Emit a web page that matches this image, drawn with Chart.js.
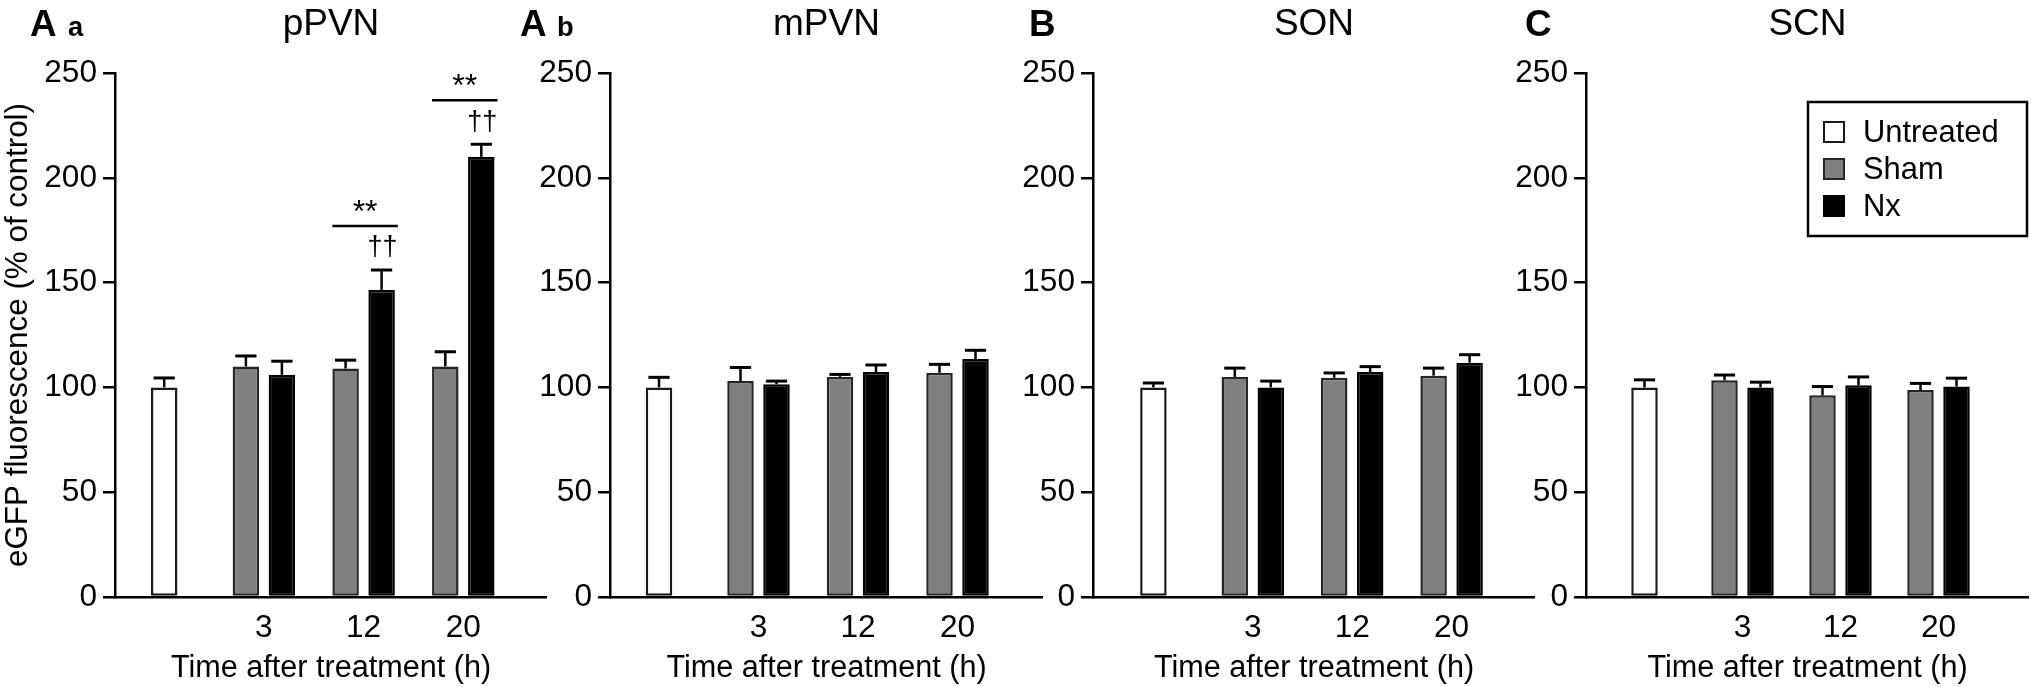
<!DOCTYPE html>
<html><head><meta charset="utf-8">
<script src="https://cdn.jsdelivr.net/npm/chart.js@4.4.1/dist/chart.umd.min.js"></script>
<style>
html,body{margin:0;padding:0;background:#fff;}
#wrap{position:relative;width:2031px;height:687px;overflow:hidden;background:#fff;}
#wrap canvas{position:absolute;top:0;}
</style></head>
<body><div id="wrap"></div>
<script>
// ---------------- data ----------------
const timeLabels = ['', '3', '12', '20'];
const seriesNames = ['Untreated', 'Sham', 'Nx'];
const yTickStep = 50;
const yMax = 250;

const untreated_pPVN = [100, null, null, null];
const untreatedErr_pPVN = [4.5, null, null, null];
const sham_pPVN = [null, 110, 109, 110];
const shamErr_pPVN = [null, 5, 4, 7];
const nx_pPVN = [null, 106, 146.5, 210];
const nxErr_pPVN = [null, 6.5, 9.5, 6];
const stars_pPVN = ['', '', '**', '**'];
const daggers_pPVN = ['', '', '\u2020\u2020', '\u2020\u2020'];

const untreated_mPVN = [100, null, null, null];
const untreatedErr_mPVN = [4.8, null, null, null];
const sham_mPVN = [null, 103, 105, 107];
const shamErr_mPVN = [null, 6.5, 1.2, 4];
const nx_mPVN = [null, 101.5, 107.3, 113.5];
const nxErr_mPVN = [null, 1.5, 3.4, 4.2];

const untreated_SON = [100, null, null, null];
const untreatedErr_SON = [2.1, null, null, null];
const sham_SON = [null, 105, 104.6, 105.6];
const shamErr_SON = [null, 4.2, 2.3, 3.6];
const nx_SON = [null, 100, 107.3, 111.8];
const nxErr_SON = [null, 3, 2.6, 3.8];

const untreated_SCN = [100, null, null, null];
const untreatedErr_SCN = [3.6, null, null, null];
const sham_SCN = [null, 103.4, 96.2, 98.7];
const shamErr_SCN = [null, 2.5, 4.2, 3.2];
const nx_SCN = [null, 100, 101, 100.4];
const nxErr_SCN = [null, 2.5, 4, 4];

const regionTitles = ['pPVN', 'mPVN', 'SON', 'SCN'];
const panelLetters = ['A', 'A', 'B', 'C'];
const panelSubLetters = ['a', 'b', '', ''];
const xAxisTitle = 'Time after treatment (h)';
const yAxisTitle = 'eGFP fluorescence (% of control)';

// ---------------- styles / layout ----------------
const FONT = "'Liberation Sans', Arial, Helvetica, sans-serif";
const H = 687;
const PLOT_TOP = 73, PLOT_BOTTOM = 597;
const fills = ['#ffffff', '#808080', '#000000'];
const borders = ['#1a1a1a', '#262626', '#000000'];

// font sizes chosen so that the ink width of sample strings matches the reference
const measureCtx = document.createElement('canvas').getContext('2d');
function fitSize(text, inkWidth, weight) {
  measureCtx.font = (weight || 'normal') + ' 100px ' + FONT;
  const m = measureCtx.measureText(text);
  const w = (m.actualBoundingBoxLeft || 0) + (m.actualBoundingBoxRight || m.width);
  return Math.round(100 * inkWidth / w * 10) / 10;
}
const TICK_SIZE = fitSize('250', 50);
const XTITLE_SIZE = fitSize(xAxisTitle, 318);
const YTITLE_SIZE = fitSize(yAxisTitle, 462);
const TITLE_SIZE = fitSize('pPVN', 91.7);
const LEGEND_SIZE = fitSize('Untreated', 132);
const LETTER_SIZE = fitSize('A', 25, 'bold');
const SUB_SIZE = fitSize('a', 15, 'bold');

// left: canvas left; axisX: y axis; right: x-axis end; a: px from axis to first slot; p: px per slot
const layouts = [
  {left: 0,    axisX: 115,  right: 547,  a: 49.2, p: 99.7, letterX: 30,  subX: 68,  yTitle: true},
  {left: 500,  axisX: 610,  right: 1043, a: 49.0, p: 99.5, letterX: 520, subX: 557, yTitle: false},
  {left: 1000, axisX: 1093, right: 1535, a: 60.4, p: 99.4, letterX: 1029, subX: 0, yTitle: false},
  {left: 1500, axisX: 1586, right: 2029, a: 58.5, p: 98.0, letterX: 1525, subX: 0, yTitle: false, legend: true}
];

const panelData = [
  {u: untreated_pPVN, ue: untreatedErr_pPVN, s: sham_pPVN, se: shamErr_pPVN, n: nx_pPVN, ne: nxErr_pPVN, stars: stars_pPVN, daggers: daggers_pPVN},
  {u: untreated_mPVN, ue: untreatedErr_mPVN, s: sham_mPVN, se: shamErr_mPVN, n: nx_mPVN, ne: nxErr_mPVN},
  {u: untreated_SON, ue: untreatedErr_SON, s: sham_SON, se: shamErr_SON, n: nx_SON, ne: nxErr_SON},
  {u: untreated_SCN, ue: untreatedErr_SCN, s: sham_SCN, se: shamErr_SCN, n: nx_SCN, ne: nxErr_SCN}
];

// ---------------- plugins ----------------
const errorBars = {
  id: 'errorBars',
  afterDatasetsDraw(chart) {
    const ctx = chart.ctx, ys = chart.scales.y;
    chart.data.datasets.forEach((ds, di) => {
      const meta = chart.getDatasetMeta(di);
      meta.data.forEach((el, i) => {
        const v = ds.data[i].y, e = ds.errors[i];
        if (v == null || e == null) return;
        const top = ys.getPixelForValue(v + e);
        const capW = el.width * 0.8;
        ctx.save();
        ctx.strokeStyle = '#000';
        ctx.lineWidth = 2.5;
        ctx.beginPath();
        ctx.moveTo(el.x, el.y);
        ctx.lineTo(el.x, top);
        ctx.stroke();
        ctx.lineWidth = 3;
        ctx.beginPath();
        ctx.moveTo(el.x - capW / 2, top);
        ctx.lineTo(el.x + capW / 2, top);
        ctx.stroke();
        ctx.restore();
      });
    });
  }
};

const sigMarks = {
  id: 'sigMarks',
  afterDatasetsDraw(chart, args, o) {
    if (!o || !o.stars) return;
    const ctx = chart.ctx, ys = chart.scales.y;
    const sMeta = chart.getDatasetMeta(1), nMeta = chart.getDatasetMeta(2);
    const nDs = chart.data.datasets[2];
    o.stars.forEach((st, i) => {
      if (!st) return;
      const sEl = sMeta.data[i], nEl = nMeta.data[i];
      const capY = ys.getPixelForValue(nDs.data[i].y + nDs.errors[i]);
      const lineY = capY - 44;
      const x0 = sEl.x - sEl.width / 2, x1 = nEl.x + nEl.width / 2 + 3;
      ctx.save();
      ctx.strokeStyle = '#000';
      ctx.lineWidth = 2.5;
      ctx.beginPath();
      ctx.moveTo(x0, lineY);
      ctx.lineTo(x1, lineY);
      ctx.stroke();
      ctx.fillStyle = '#000';
      ctx.textAlign = 'center';
      ctx.textBaseline = 'middle';
      ctx.font = '32px ' + FONT;
      ctx.fillText(st, (x0 + x1) / 2, lineY - 13);
      ctx.font = '27px ' + FONT;
      ctx.fillText(o.daggers[i], nEl.x + 1, capY - 22);
      ctx.restore();
    });
  }
};

const panelText = {
  id: 'panelText',
  afterDraw(chart, args, o) {
    const ctx = chart.ctx, ca = chart.chartArea;
    ctx.save();
    ctx.fillStyle = '#000';
    ctx.textBaseline = 'alphabetic';
    ctx.textAlign = 'center';
    ctx.font = TITLE_SIZE + 'px ' + FONT;
    ctx.fillText(o.title, (ca.left + ca.right) / 2, 35);
    ctx.textAlign = 'left';
    ctx.font = 'bold ' + LETTER_SIZE + 'px ' + FONT;
    ctx.fillText(o.letter, o.letterX, 36);
    if (o.sub) {
      ctx.font = 'bold ' + SUB_SIZE + 'px ' + FONT;
      ctx.fillText(o.sub, o.subX, 36);
    }
    ctx.restore();
  }
};

const boxLegend = {
  id: 'boxLegend',
  afterDraw(chart, args, o) {
    if (!o || !o.show) return;
    const ctx = chart.ctx;
    ctx.save();
    ctx.lineWidth = 2.5;
    ctx.strokeStyle = '#000';
    ctx.strokeRect(o.x, o.y, o.w, o.h);
    ctx.font = LEGEND_SIZE + 'px ' + FONT;
    ctx.textBaseline = 'middle';
    chart.data.datasets.forEach((ds, i) => {
      const cy = o.rowY0 + i * o.rowGap;
      ctx.fillStyle = ds.backgroundColor;
      ctx.fillRect(o.markX, cy - o.mark / 2, o.mark, o.mark);
      ctx.lineWidth = 2;
      ctx.strokeStyle = ds.borderColor;
      ctx.strokeRect(o.markX + 1, cy - o.mark / 2 + 1, o.mark - 2, o.mark - 2);
      ctx.fillStyle = '#000';
      ctx.fillText(ds.label, o.textX, cy + 1);
    });
    ctx.restore();
  }
};

// ---------------- build charts ----------------
Chart.defaults.font.family = FONT;
Chart.defaults.color = '#000';

const wrap = document.getElementById('wrap');

layouts.forEach((L, k) => {
  const d = panelData[k];
  const width = L.right - L.left;
  const plotLen = L.right - L.axisX;
  const xMin = -L.a / L.p;
  const xMax = (plotLen - L.a) / L.p;
  const catPct = 72 / L.p;

  const canvas = document.createElement('canvas');
  canvas.width = width;
  canvas.height = H;
  canvas.style.left = L.left + 'px';
  canvas.style.width = width + 'px';
  canvas.style.height = H + 'px';
  wrap.appendChild(canvas);

  const series = [[d.u, d.ue], [d.s, d.se], [d.n, d.ne]];
  const datasets = series.map((sv, si) => ({
    label: seriesNames[si],
    data: timeLabels.map((t, i) => ({x: i, y: sv[0][i]})),
    errors: sv[1],
    backgroundColor: fills[si],
    borderColor: borders[si],
    borderWidth: 2.5,
    borderSkipped: false,
    skipNull: true,
    categoryPercentage: catPct,
    barPercentage: 0.736,
    maxBarThickness: 26.5
  }));

  new Chart(canvas, {
    type: 'bar',
    data: {datasets},
    options: {
      responsive: false,
      animation: false,
      devicePixelRatio: 1,
      layout: {padding: {top: PLOT_TOP, left: 0, right: 0, bottom: 0}},
      plugins: {
        legend: {display: false},
        tooltip: {enabled: false},
        title: {display: false},
        sigMarks: d.stars ? {stars: d.stars, daggers: d.daggers} : {},
        panelText: {title: regionTitles[k], letter: panelLetters[k], sub: panelSubLetters[k],
                    letterX: L.letterX - L.left, subX: L.subX - L.left},
        boxLegend: L.legend ? {show: true, x: 1808 - L.left, y: 102, w: 219, h: 134,
                    markX: 1823 - L.left, mark: 22, rowY0: 132, rowGap: 37, textX: 1863 - L.left} : {show: false}
      },
      scales: {
        x: {
          type: 'linear',
          offset: false,
          min: xMin,
          max: xMax,
          grid: {display: false, drawTicks: false},
          border: {display: true, color: '#000', width: 2.5},
          ticks: {font: {size: TICK_SIZE}, color: '#000', padding: 12, autoSkip: false, maxRotation: 0,
                  callback: (v) => timeLabels[v] || ''},
          afterBuildTicks: (scale) => {
            scale.ticks = timeLabels.map((t, i) => ({value: i})).filter(t => timeLabels[t.value] !== '');
          },
          title: {display: true, text: xAxisTitle, font: {size: XTITLE_SIZE}, color: '#000', padding: {top: 0, bottom: 0}},
          afterFit: (scale) => { scale.height = H - PLOT_BOTTOM; }
        },
        y: {
          type: 'linear',
          min: 0,
          max: yMax,
          grid: {drawOnChartArea: false, drawTicks: true, tickLength: 12, color: '#000', lineWidth: 2.5},
          border: {display: true, color: '#000', width: 2.5},
          ticks: {stepSize: yTickStep, font: {size: TICK_SIZE}, color: '#000', padding: 6},
          title: {display: L.yTitle, text: yAxisTitle, font: {size: YTITLE_SIZE}, color: '#000', padding: {top: 0, bottom: 0}},
          afterFit: (scale) => { scale.width = L.axisX - L.left; }
        }
      }
    },
    plugins: [errorBars, sigMarks, panelText, boxLegend]
  });
});
</script>
</body></html>
